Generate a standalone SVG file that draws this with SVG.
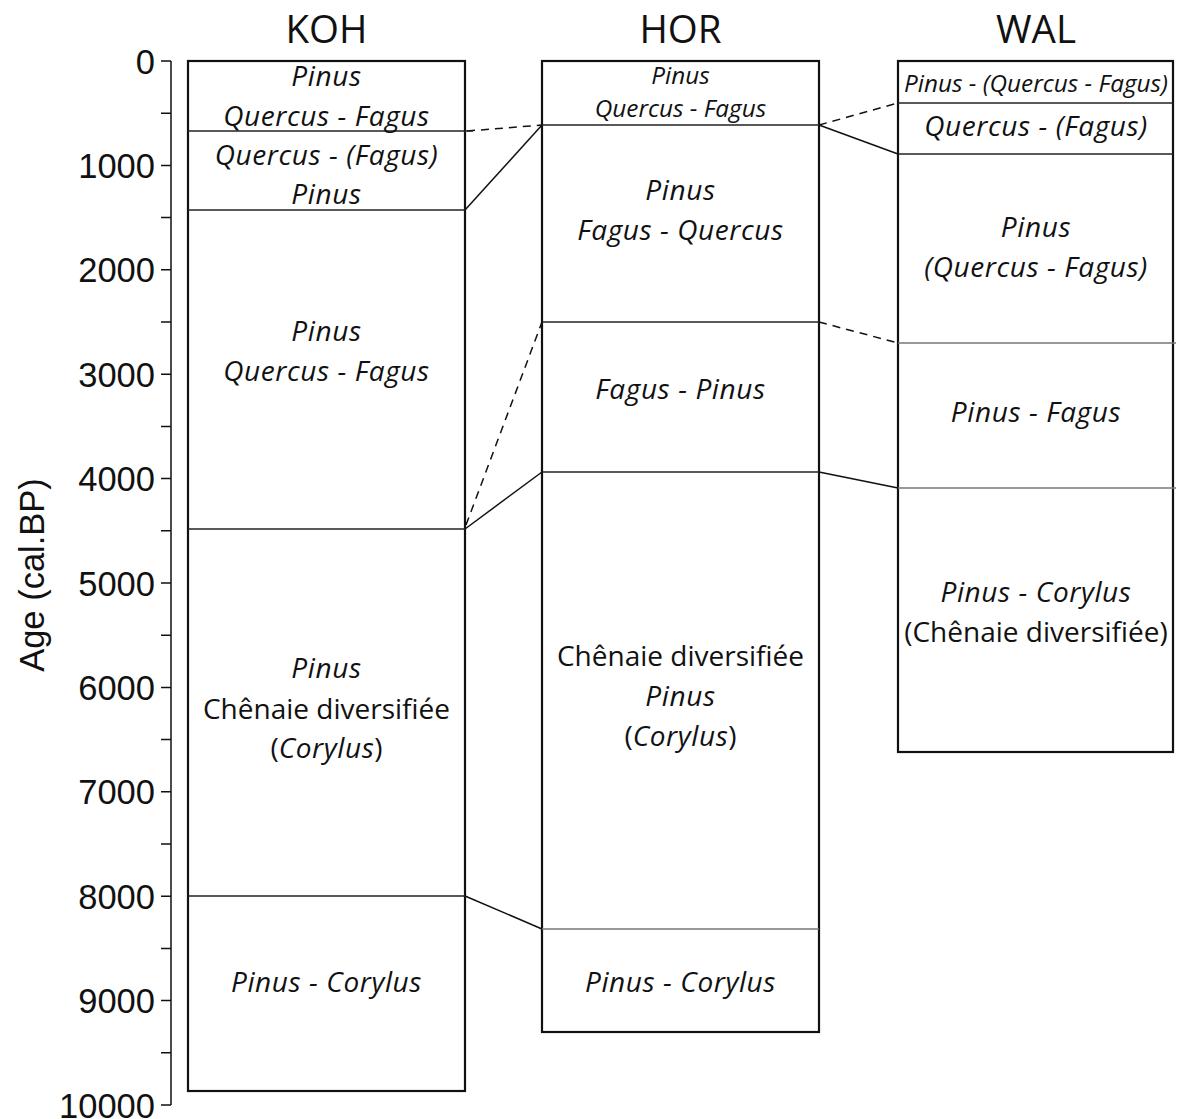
<svg xmlns="http://www.w3.org/2000/svg" width="1178" height="1119" viewBox="0 0 1178 1119">
<style>
.ax{font-family:"Liberation Sans",Arial,sans-serif;font-size:34.5px;fill:#111}
.num{text-anchor:end}
.ttl{font-family:"Open Sans","Noto Sans",sans-serif;font-size:38.5px;fill:#111;text-anchor:middle}
.lb{font-family:"Open Sans","Noto Sans",sans-serif;font-size:28px;fill:#111;text-anchor:middle}
.it{font-style:italic;letter-spacing:0.6px}
.sm{font-size:24.3px;letter-spacing:0}
.box{fill:none;stroke:#111;stroke-width:2.2}
.bd{stroke:#222;stroke-width:1.4}
.bg{stroke:#777;stroke-width:1.4}
.cn{stroke:#111;stroke-width:1.5;fill:none}
.ds{stroke-dasharray:8 6}
.tk{stroke:#111;stroke-width:1.5}
</style>
<rect width="1178" height="1119" fill="#fff"/>
<g id="axis">
<line class="tk" x1="171" y1="61" x2="171" y2="1105"/>
<path class="tk" d="M161 61H171M161 113.2H171M161 165.4H171M161 217.6H171M161 269.8H171M161 322H171M161 374.2H171M161 426.4H171M161 478.6H171M161 530.8H171M161 583H171M161 635.2H171M161 687.4H171M161 739.6H171M161 791.8H171M161 844H171M161 896.2H171M161 948.4H171M161 1000.6H171M161 1052.8H171M161 1105H171"/>
<text class="ax num" x="155" y="73.5">0</text>
<text class="ax num" x="155" y="177.9">1000</text>
<text class="ax num" x="155" y="282.3">2000</text>
<text class="ax num" x="155" y="386.7">3000</text>
<text class="ax num" x="155" y="491.1">4000</text>
<text class="ax num" x="155" y="595.5">5000</text>
<text class="ax num" x="155" y="699.9">6000</text>
<text class="ax num" x="155" y="804.3">7000</text>
<text class="ax num" x="155" y="908.7">8000</text>
<text class="ax num" x="155" y="1013.1">9000</text>
<text class="ax num" x="155" y="1117.5">10000</text>
<text class="ax" x="0" y="0" text-anchor="middle" transform="translate(44 575) rotate(-90)">Age (cal.BP)</text>
</g>
<g id="connectors">
<line class="cn ds" x1="467" y1="131" x2="542" y2="125"/>
<line class="cn" x1="465" y1="210" x2="542" y2="125"/>
<line class="cn ds" x1="819" y1="125" x2="898" y2="103"/>
<line class="cn" x1="819" y1="125" x2="898" y2="154"/>
<line class="cn ds" x1="466" y1="525" x2="542" y2="322"/>
<line class="cn" x1="465" y1="529" x2="542" y2="472"/>
<line class="cn ds" x1="819" y1="322" x2="898" y2="343"/>
<line class="cn" x1="819" y1="472" x2="898" y2="488"/>
<line class="cn" x1="465" y1="896" x2="542" y2="929"/>
</g>
<g id="KOH">
<text class="ttl" x="326.5" y="43">KOH</text>
<rect class="box" x="188" y="61" width="277" height="1030"/>
<line class="bd" x1="188" y1="131" x2="473" y2="131"/>
<line class="bd" x1="188" y1="210" x2="465" y2="210"/>
<line class="bd" x1="188" y1="529" x2="465" y2="529"/>
<line class="bd" x1="188" y1="896" x2="465" y2="896"/>
<text class="lb it" x="326.5" y="86">Pinus</text>
<text class="lb it" x="326.5" y="126">Quercus - Fagus</text>
<text class="lb it" x="326.5" y="165">Quercus - (Fagus)</text>
<text class="lb it" x="326.5" y="204">Pinus</text>
<text class="lb it" x="326.5" y="341">Pinus</text>
<text class="lb it" x="326.5" y="381">Quercus - Fagus</text>
<text class="lb it" x="326.5" y="678">Pinus</text>
<text class="lb" x="326.5" y="719">Chênaie diversifiée</text>
<text class="lb" x="326.5" y="758">(<tspan class="it">Corylus</tspan>)</text>
<text class="lb it" x="326.5" y="992">Pinus - Corylus</text>
</g>
<g id="HOR">
<text class="ttl" x="680.5" y="43">HOR</text>
<rect class="box" x="542" y="61" width="277" height="971"/>
<line class="bd" x1="542" y1="125" x2="819" y2="125"/>
<line class="bd" x1="542" y1="322" x2="819" y2="322"/>
<line class="bd" x1="542" y1="472" x2="819" y2="472"/>
<line class="bg" x1="542" y1="929" x2="819" y2="929"/>
<text class="lb it sm" x="680.5" y="84">Pinus</text>
<text class="lb it sm" x="680.5" y="117">Quercus - Fagus</text>
<text class="lb it" x="680.5" y="200">Pinus</text>
<text class="lb it" x="680.5" y="240">Fagus - Quercus</text>
<text class="lb it" x="680.5" y="399">Fagus - Pinus</text>
<text class="lb" x="680.5" y="666">Chênaie diversifiée</text>
<text class="lb it" x="680.5" y="706">Pinus</text>
<text class="lb" x="680.5" y="746">(<tspan class="it">Corylus</tspan>)</text>
<text class="lb it" x="680.5" y="992">Pinus - Corylus</text>
</g>
<g id="WAL">
<text class="ttl" x="1036" y="43">WAL</text>
<rect class="box" x="898" y="61" width="275" height="691"/>
<line class="bd" x1="898" y1="103" x2="1173" y2="103"/>
<line class="bd" x1="898" y1="154" x2="1173" y2="154"/>
<line class="bg" x1="898" y1="343" x2="1176" y2="343"/>
<line class="bg" x1="898" y1="488" x2="1176" y2="488"/>
<text class="lb it sm" x="1036" y="92">Pinus - (Quercus - Fagus)</text>
<text class="lb it" x="1036" y="136">Quercus - (Fagus)</text>
<text class="lb it" x="1036" y="237">Pinus</text>
<text class="lb it" x="1036" y="277">(Quercus - Fagus)</text>
<text class="lb it" x="1036" y="422">Pinus - Fagus</text>
<text class="lb it" x="1036" y="602">Pinus - Corylus</text>
<text class="lb" x="1036" y="642">(Chênaie diversifiée)</text>
</g>
</svg>
